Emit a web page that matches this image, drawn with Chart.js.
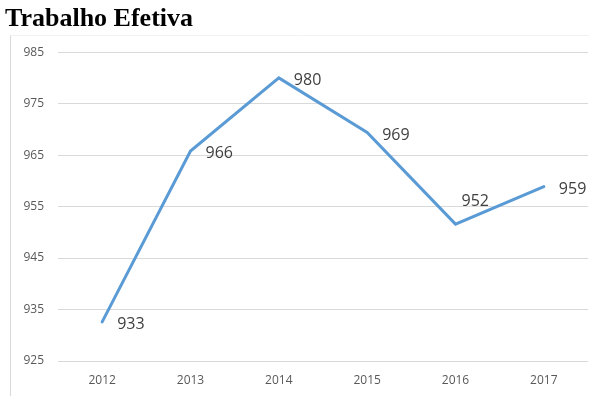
<!DOCTYPE html>
<html>
<head>
<meta charset="utf-8">
<script src="https://cdn.jsdelivr.net/npm/chart.js@4"></script>
<style>
  html, body { margin: 0; padding: 0; background: #ffffff; }
  #wrap { position: relative; width: 589px; height: 396px; }
</style>
</head>
<body>
<div id="wrap"><canvas id="c" width="589" height="396"></canvas></div>
<script>
const chartTitle = "Trabalho Efetiva";
const categories = ["2012", "2013", "2014", "2015", "2016", "2017"];
const values = [932.6, 965.8, 980.0, 969.4, 951.6, 958.9];
const yTicks = [925, 935, 945, 955, 965, 975, 985];

const framePlugin = {
  id: 'frame',
  beforeDraw(chart) {
    const ctx = chart.ctx;
    ctx.save();
    ctx.strokeStyle = '#d9d9d9';
    ctx.lineWidth = 1;
    ctx.beginPath();
    ctx.moveTo(10.5, 35);
    ctx.lineTo(10.5, 396);
    ctx.stroke();
    ctx.strokeStyle = '#f2f2f2';
    ctx.beginPath();
    ctx.moveTo(10.5, 35.5);
    ctx.lineTo(589, 35.5);
    ctx.stroke();
    ctx.restore();
  }
};

const labelPlugin = {
  id: 'pointLabels',
  afterDatasetsDraw(chart) {
    const ctx = chart.ctx;
    const meta = chart.getDatasetMeta(0);
    const data = chart.data.datasets[0].data;
    ctx.save();
    ctx.font = '16px "Open Sans"';
    ctx.fillStyle = '#404040';
    ctx.textAlign = 'left';
    ctx.textBaseline = 'middle';
    meta.data.forEach((pt, i) => {
      const v = data[i];
      const isInnerMin = i > 0 && i < data.length - 1 && v < data[i - 1] && v < data[i + 1];
      let x, y;
      if (isInnerMin) {
        x = pt.x + 6;
        y = pt.y - 23;
      } else {
        x = pt.x + 15;
        y = pt.y + 2.5;
      }
      ctx.fillText(String(Math.round(v)), x, y);
    });
    ctx.restore();
  }
};

new Chart(document.getElementById('c'), {
  type: 'line',
  data: {
    labels: categories,
    datasets: [{
      data: values,
      borderColor: '#5B9BD5',
      borderWidth: 3,
      pointRadius: 0,
      pointHoverRadius: 0,
      tension: 0,
      fill: false,
      borderCapStyle: 'round',
      borderJoinStyle: 'miter'
    }]
  },
  options: {
    responsive: false,
    animation: false,
    devicePixelRatio: 1,
    layout: { padding: { left: 5, right: 1, top: 0, bottom: 0 } },
    plugins: {
      legend: { display: false },
      tooltip: { enabled: false },
      title: {
        display: true,
        text: chartTitle,
        align: 'start',
        color: '#000000',
        font: { family: '"Liberation Serif", "Times New Roman", serif', size: 26, weight: 'bold', lineHeight: 1.2 },
        padding: { top: 4, bottom: 17 }
      }
    },
    scales: {
      x: {
        type: 'category',
        offset: true,
        afterFit(scale) { scale.height = 35; },
        grid: { display: false, drawTicks: false },
        border: { display: false },
        ticks: {
          color: '#595959',
          font: { family: '"Open Sans"', size: 12, lineHeight: 1.2 },
          padding: 12,
          maxRotation: 0
        }
      },
      y: {
        min: 925,
        max: 985,
        afterBuildTicks(scale) {
          scale.ticks = yTicks.map(v => ({ value: v }));
        },
        afterFit(scale) { scale.width = 53; },
        grid: { color: '#d9d9d9', lineWidth: 1, drawTicks: false },
        border: { display: false },
        ticks: {
          color: '#595959',
          font: { family: '"Open Sans"', size: 12 },
          padding: 14
        }
      }
    }
  },
  plugins: [framePlugin, labelPlugin]
});
</script>
</body>
</html>
